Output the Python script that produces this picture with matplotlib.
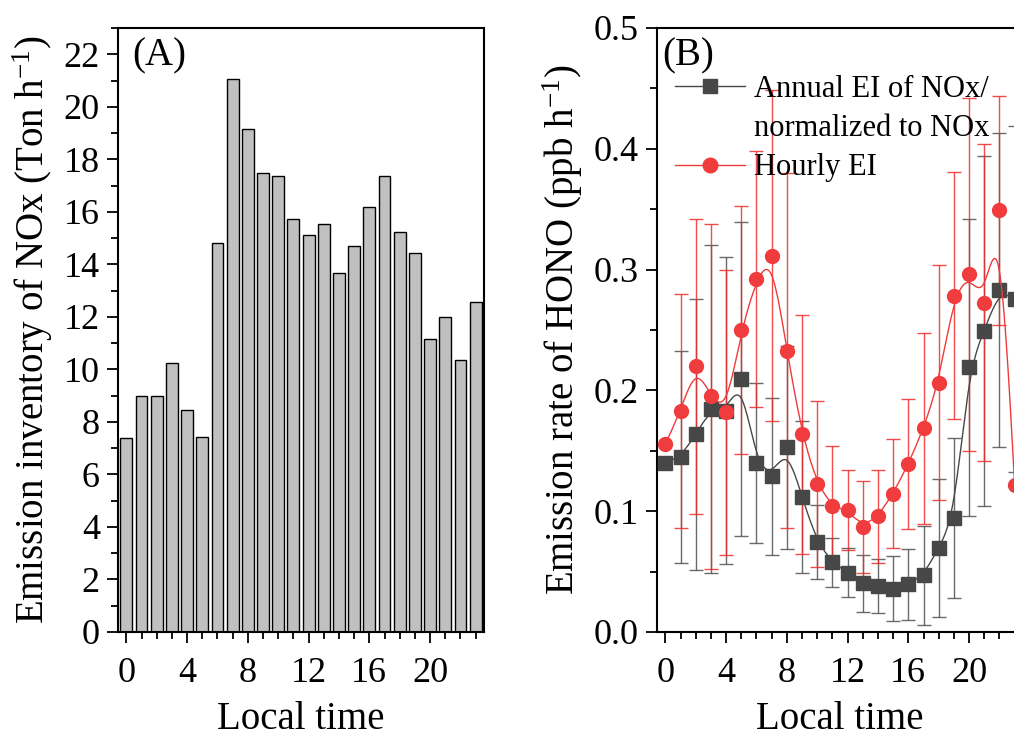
import numpy as np
import matplotlib
matplotlib.use('Agg')
import matplotlib.pyplot as plt
from matplotlib.lines import Line2D

plt.rcParams['font.family'] = 'Liberation Serif'
plt.rcParams['mathtext.fontset'] = 'custom'
plt.rcParams['mathtext.rm'] = 'Liberation Serif'
plt.rcParams['mathtext.it'] = 'Liberation Serif:italic'

# hours of the day
hours = np.arange(24)

# (A) NOx emission inventory, Ton/h
nox_ei = [7.37, 9.0, 9.0, 10.23, 8.47, 7.44, 14.83, 21.06, 19.17, 17.49, 17.36, 15.74,
          15.1, 15.54, 13.66, 14.7, 16.2, 17.36, 15.23, 14.44, 11.14, 11.99, 10.36, 12.57]

# (B) HONO emission rate, ppb/h
annual_ei = [0.140, 0.145, 0.1635, 0.1845, 0.1832, 0.2094, 0.1398, 0.129, 0.153, 0.1116,
             0.0743, 0.0577, 0.0492, 0.0403, 0.0381, 0.0359, 0.0395, 0.047, 0.0696, 0.0942,
             0.219, 0.2494, 0.283, 0.2757]
annual_sd = [0.0, 0.088, 0.112, 0.136, 0.127, 0.130, 0.066, 0.065, 0.084, 0.063,
             0.0305, 0.0202, 0.0205, 0.0235, 0.0225, 0.027, 0.0295, 0.041, 0.057, 0.066,
             0.123, 0.145, 0.130, 0.143]
hourly_ei = [0.1555, 0.183, 0.220, 0.195, 0.182, 0.250, 0.292, 0.3116, 0.233, 0.1635,
             0.1224, 0.104, 0.1008, 0.087, 0.0959, 0.1146, 0.139, 0.1685, 0.2064, 0.2785,
             0.296, 0.2727, 0.349, 0.122]
hourly_sd = [0.0, 0.097, 0.122, 0.143, 0.118, 0.103, 0.106, 0.137, 0.147, 0.099,
             0.069, 0.050, 0.033, 0.038, 0.0385, 0.045, 0.054, 0.079, 0.097, 0.102,
             0.146, 0.131, 0.095, 0.154]


def bspline(x, y, n=25):
    # uniform cubic B-spline, ends clamped
    P = np.column_stack([x, y]).astype(float)
    P = np.vstack([P[0], P[0], P, P[-1], P[-1]])
    t = np.linspace(0, 1, n, endpoint=False)[:, None]
    b0 = (1 - t) ** 3 / 6
    b1 = (3 * t ** 3 - 6 * t ** 2 + 4) / 6
    b2 = (-3 * t ** 3 + 3 * t ** 2 + 3 * t + 1) / 6
    b3 = t ** 3 / 6
    out = []
    for i in range(len(P) - 3):
        out.append(b0 * P[i] + b1 * P[i + 1] + b2 * P[i + 2] + b3 * P[i + 3])
    out.append(P[-1][None, :])
    out = np.vstack(out)
    return out[:, 0], out[:, 1]


fig = plt.figure(figsize=(10.14, 7.4), dpi=100)
ax1 = fig.add_axes([118 / 1014, 1 - 632 / 740, 366 / 1014, 604 / 740])
ax2 = fig.add_axes([657 / 1014, 1 - 632 / 740, 366 / 1014, 604 / 740])

tick_fs = 26
lab_fs = 28

# ---- panel A
ax1.bar(hours, nox_ei, width=0.78, color='#C0C0C0', edgecolor='black', linewidth=1.0)
ax1.set_xlim(-0.55, 23.55)
ax1.set_ylim(0, 23)
ax1.set_xticks([0, 4, 8, 12, 16, 20])
ax1.set_xticks(hours, minor=True)
ax1.set_yticks(np.arange(0, 23, 2))
ax1.set_yticks(np.arange(0, 24, 1), minor=True)
ax1.set_ylabel('Emission inventory of NOx (Ton h$^{\\mathrm{-1}}$)', fontsize=lab_fs, labelpad=6)
ax1.set_xlabel('Local time', fontsize=lab_fs, labelpad=8)
ax1.text(0.04, 0.985, '(A)', transform=ax1.transAxes, fontsize=28, va='top', ha='left')

# ---- panel B
xa, ya = bspline(hours, annual_ei)
xh, yh = bspline(hours, hourly_ei)
ax2.errorbar(hours, annual_ei, yerr=annual_sd, fmt='none', ecolor='#505050', elinewidth=1.0,
             capsize=5, capthick=1.0, alpha=0.85, zorder=2)
ax2.errorbar(hours, hourly_ei, yerr=hourly_sd, fmt='none', ecolor='#EE2C2C', elinewidth=1.0,
             capsize=5, capthick=1.0, alpha=0.85, zorder=2)
ax2.plot(xa, ya, color='#484848', lw=1.0, zorder=3)
ax2.plot(hours, annual_ei, 's', color='#474747', ms=9.5, zorder=4)
ax2.plot(xh, yh, color='#EE3B3B', lw=1.0, zorder=5)
ax2.plot(hours, hourly_ei, 'o', color='#F03C3C', ms=10, zorder=6)
ax2.set_xlim(-0.55, 23.55)
ax2.set_ylim(0, 0.5)
ax2.set_xticks([0, 4, 8, 12, 16, 20])
ax2.set_xticks(hours, minor=True)
ax2.set_yticks(np.arange(0, 0.51, 0.1))
ax2.set_yticks(np.arange(0, 0.51, 0.05), minor=True)
ax2.yaxis.set_major_formatter(matplotlib.ticker.FormatStrFormatter('%.1f'))
ax2.set_ylabel('Emission rate of HONO (ppb h$^{\\mathrm{-1}}$)', fontsize=lab_fs, labelpad=6)
ax2.set_xlabel('Local time', fontsize=lab_fs, labelpad=8)
ax2.text(0.014, 0.985, '(B)', transform=ax2.transAxes, fontsize=28, va='top', ha='left')

h1 = Line2D([], [], color='#484848', lw=1.0, marker='s', ms=10, mfc='#474747', mec='#474747')
h_blank = Line2D([], [], color='none')
h2 = Line2D([], [], color='#EE3B3B', lw=1.0, marker='o', ms=10.5, mfc='#F03C3C', mec='#F03C3C')
ax2.legend([h1, h_blank, h2], ['Annual EI of NOx/', 'normalized to NOx', 'Hourly EI'],
           loc='upper left', bbox_to_anchor=(0.049, 0.922), frameon=False, fontsize=22,
           borderpad=0, borderaxespad=0, handlelength=2.3, handletextpad=0.3, labelspacing=0.33)

for ax in (ax1, ax2):
    for s in ax.spines.values():
        s.set_linewidth(1.5)
    ax.tick_params(which='both', direction='out', top=False, right=False, width=1.3)
    ax.tick_params(which='major', length=8, labelsize=tick_fs)
    ax.tick_params(which='minor', length=5)
    ax.tick_params(axis='x', which='major', pad=10)
    ax.tick_params(axis='y', which='major', pad=5)

fig.savefig('out.png', dpi=100)
